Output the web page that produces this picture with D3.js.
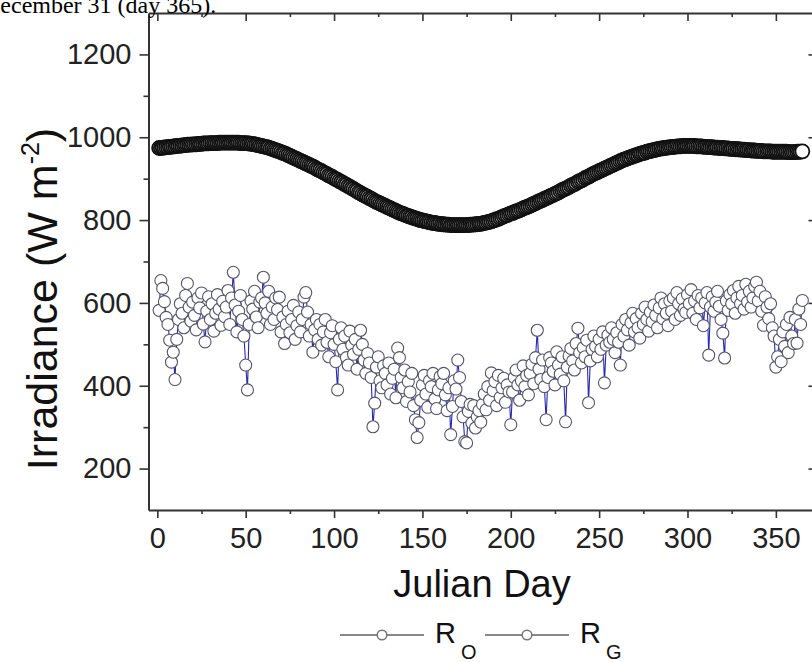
<!DOCTYPE html>
<html>
<head>
<meta charset="utf-8">
<script src="https://cdn.jsdelivr.net/npm/d3@7"></script>
<style>
  body { margin: 0; background: #fff; }
  svg { display: block; }
</style>
</head>
<body>
<svg id="chart"></svg>
<script>
// day of year, 1..365
const days = d3.range(1, 366);

// R_O : clear-sky irradiance (W m-2)
const ro = [
    974, 974, 975, 975, 976, 976, 977, 977, 978, 978,
    979, 979, 980, 980, 981, 981, 982, 982, 982, 983,
    983, 983, 984, 984, 984, 985, 985, 985, 985, 986,
    986, 986, 986, 986, 987, 987, 987, 987, 987, 987,
    987, 987, 987, 987, 987, 987, 986, 986, 986, 986,
    985, 985, 984, 984, 983, 982, 981, 980, 979, 978,
    977, 976, 975, 973, 972, 970, 969, 967, 966, 964,
    962, 961, 959, 957, 955, 953, 951, 949, 947, 945,
    943, 941, 939, 937, 935, 933, 931, 929, 927, 924,
    922, 920, 918, 915, 913, 911, 908, 906, 904, 901,
    899, 897, 894, 892, 890, 887, 885, 882, 880, 877,
    875, 872, 870, 867, 865, 862, 860, 858, 856, 853,
    851, 849, 846, 844, 842, 840, 838, 836, 834, 832,
    830, 828, 826, 824, 822, 820, 818, 816, 815, 813,
    811, 810, 808, 807, 805, 804, 803, 801, 800, 799,
    798, 797, 796, 795, 794, 793, 793, 792, 791, 791,
    790, 790, 789, 789, 789, 788, 788, 788, 788, 788,
    788, 788, 788, 788, 788, 788, 789, 789, 789, 790,
    790, 791, 791, 792, 793, 794, 795, 796, 797, 799,
    800, 802, 803, 805, 807, 809, 811, 812, 814, 816,
    817, 819, 821, 822, 824, 826, 828, 830, 831, 833,
    835, 837, 839, 841, 843, 845, 847, 849, 851, 853,
    855, 857, 859, 861, 863, 865, 867, 870, 872, 874,
    876, 878, 880, 883, 885, 887, 889, 892, 894, 896,
    898, 901, 903, 905, 907, 910, 912, 914, 916, 918,
    920, 922, 924, 926, 928, 930, 932, 934, 936, 938,
    940, 942, 944, 946, 947, 949, 951, 952, 954, 955,
    957, 958, 960, 961, 962, 963, 965, 966, 967, 968,
    969, 970, 971, 972, 973, 973, 974, 975, 975, 976,
    976, 977, 977, 978, 978, 978, 979, 979, 979, 979,
    979, 979, 979, 979, 978, 978, 978, 978, 977, 977,
    977, 976, 976, 976, 975, 975, 975, 974, 974, 974,
    973, 973, 973, 972, 972, 972, 971, 971, 971, 970,
    970, 970, 969, 969, 969, 968, 968, 968, 967, 967,
    967, 967, 966, 966, 966, 966, 966, 965, 965, 965,
    965, 965, 965, 965, 965, 965, 964, 964, 964, 964,
    964, 965, 965, 965, 966
];

// R_G : measured global irradiance (W m-2)
const rg = [
    582, 654, 635, 603, 565, 548, 510, 457, 481, 415,
    512, 560, 598, 575, 540, 618, 647, 590, 556, 602,
    570, 535, 612, 588, 624, 549, 506, 580, 615, 560,
    598, 532, 575, 620, 585, 546, 604, 567, 590, 630,
    548, 612, 674, 595, 530, 580, 618, 560, 520, 450,
    390, 548, 605, 585, 628, 566, 540, 602, 612, 662,
    600, 575, 628, 548, 590, 560, 612, 584, 614, 530,
    566, 502, 548, 580, 528, 560, 594, 512, 545, 578,
    530, 560, 614, 625, 578, 520, 548, 481, 535, 560,
    512, 548, 498, 530, 560, 505, 470, 528, 545, 500,
    458, 390, 512, 540, 488, 520, 468, 450, 532, 498,
    476, 512, 440, 488, 534, 500, 462, 430, 478, 455,
    420, 301, 358, 445, 470, 412, 395, 448, 430, 402,
    455, 380, 418, 440, 371, 491, 468, 420, 395, 438,
    362, 410, 385, 430, 352, 318, 275, 311, 365, 402,
    425, 380, 348, 412, 398, 430, 368, 345, 390, 422,
    405, 430, 378, 340, 395, 282, 350, 412, 392, 462,
    420, 362, 325, 265, 262, 338, 355, 310, 352, 298,
    325, 340, 312, 355, 380, 342, 398, 365, 431, 388,
    410, 352, 425, 372, 395, 418, 360, 402, 385, 306,
    385, 420, 438, 402, 365, 412, 448, 398, 425, 378,
    430, 452, 405, 468, 534, 440, 415, 462, 398, 318,
    420, 468, 455, 435, 402, 482, 450, 428, 470, 412,
    313, 445, 472, 490, 460, 438, 502, 539, 480, 455,
    492, 470, 510, 359, 460, 488, 520, 495, 470, 512,
    488, 530, 407, 498, 522, 505, 540, 512, 480, 528,
    505, 450, 548, 520, 560, 535, 498, 552, 575, 530,
    562, 540, 515, 575, 548, 590, 560, 532, 578, 555,
    595, 570, 540, 588, 612, 562, 598, 575, 545, 605,
    580, 612, 560, 625, 598, 570, 610, 585, 577, 620,
    598, 632, 575, 605, 560, 618, 588, 612, 545, 600,
    625, 474, 590, 615, 580, 602, 628, 592, 560, 527,
    467, 605, 582, 620, 598, 630, 575, 612, 640, 598,
    618, 585, 645, 602, 628, 590, 612, 640, 650, 605,
    628, 580, 546, 615, 590, 562, 598, 540, 520, 445,
    470, 512, 458, 530, 495, 548, 480, 565, 520, 502,
    560, 503, 585, 548, 606
];

const xTicks = [0, 50, 100, 150, 200, 250, 300, 350];
const xMinor = [25, 75, 125, 175, 225, 275, 325];
const yTicks = [200, 400, 600, 800, 1000, 1200];
const yMinor = [300, 500, 700, 900, 1100];
const legendNames = [["R", "O"], ["R", "G"]];

class IrradianceChart {
    // plot box in page pixels (right edge runs past the frame)
    box = { left: 148.5, right: 816.5, top: 13, bottom: 510 }

    constructor(svg, width = 812, height = 662) {
        this.svg = svg;
        this.width = width;
        this.height = height;
    }

    initialize() {
        this.svg = d3.select(this.svg)
            .attr("width", this.width)
            .attr("height", this.height);

        this.svg.append("rect")
            .attr("width", this.width)
            .attr("height", this.height)
            .attr("fill", "#fff");

        this.x = d3.scaleLinear().domain([-5, 373]).range([this.box.left, this.box.right]);
        this.y = d3.scaleLinear().domain([100, 1300]).range([this.box.bottom, this.box.top]);

        this.plot = this.svg.append("g");
        this.axes = this.svg.append("g");
    }

    styleAxis(g) {
        g.selectAll(".domain").attr("stroke", "#333").attr("stroke-width", 2);
        g.selectAll(".tick line").attr("stroke", "#333").attr("stroke-width", 1.6);
        g.selectAll("text")
            .attr("fill", "#222")
            .attr("font-family", "'Liberation Sans', Arial, sans-serif")
            .attr("font-size", 29);
    }

    update() {
        const x = this.x, y = this.y, b = this.box;

        // R_O series
        const roPts = days.map((d, i) => [d, ro[i]]);
        this.plot.append("path")
            .datum(roPts)
            .attr("fill", "none")
            .attr("stroke", "#111")
            .attr("stroke-width", 1.5)
            .attr("d", d3.line().x(d => x(d[0])).y(d => y(d[1])));
        this.plot.append("g").selectAll("circle")
            .data(roPts)
            .join("circle")
            .attr("cx", d => x(d[0]))
            .attr("cy", d => y(d[1]))
            .attr("r", 7)
            .attr("fill", "#fff")
            .attr("stroke", "#111")
            .attr("stroke-width", 1.8);

        // R_G series
        const rgPts = days.map((d, i) => [d, rg[i]]);
        this.plot.append("path")
            .datum(rgPts)
            .attr("fill", "none")
            .attr("stroke", "#2a2aae")
            .attr("stroke-width", 1.1)
            .attr("d", d3.line().x(d => x(d[0])).y(d => y(d[1])));
        this.plot.append("g").selectAll("circle")
            .data(rgPts)
            .join("circle")
            .attr("cx", d => x(d[0]))
            .attr("cy", d => y(d[1]))
            .attr("r", 6)
            .attr("fill", "#fff")
            .attr("stroke", "#55556a")
            .attr("stroke-width", 1.1);

        // bottom axis + minor ticks
        this.axes.append("g")
            .attr("transform", `translate(0, ${b.bottom})`)
            .call(d3.axisBottom(x).tickValues(xTicks).tickSize(8).tickSizeOuter(0).tickPadding(9))
            .call(g => this.styleAxis(g));
        this.axes.append("g")
            .attr("transform", `translate(0, ${b.bottom})`)
            .call(d3.axisBottom(x).tickValues(xMinor).tickSize(4).tickFormat(""))
            .call(g => { g.select(".domain").remove(); this.styleAxis(g); });

        // left axis + minor ticks
        this.axes.append("g")
            .attr("transform", `translate(${b.left}, 0)`)
            .call(d3.axisLeft(y).tickValues(yTicks).tickFormat(d3.format("d"))
                .tickSize(9).tickSizeOuter(0).tickPadding(8))
            .call(g => this.styleAxis(g));
        this.axes.append("g")
            .attr("transform", `translate(${b.left}, 0)`)
            .call(d3.axisLeft(y).tickValues(yMinor).tickSize(5).tickFormat(""))
            .call(g => { g.select(".domain").remove(); this.styleAxis(g); });

        // top axis, ticks pointing inward
        this.axes.append("g")
            .attr("transform", `translate(0, ${b.top})`)
            .call(d3.axisBottom(x).tickValues(xTicks).tickSize(8).tickSizeOuter(0).tickFormat(""))
            .call(g => this.styleAxis(g));
        this.axes.append("g")
            .attr("transform", `translate(0, ${b.top})`)
            .call(d3.axisBottom(x).tickValues(xMinor).tickSize(4).tickFormat(""))
            .call(g => { g.select(".domain").remove(); this.styleAxis(g); });

        // right axis, ticks pointing inward
        this.axes.append("g")
            .attr("transform", `translate(${b.right}, 0)`)
            .call(d3.axisLeft(y).tickValues(yTicks).tickSize(8).tickSizeOuter(0).tickFormat(""))
            .call(g => this.styleAxis(g));

        // axis titles
        this.svg.append("text")
            .attr("x", 482)
            .attr("y", 597)
            .attr("text-anchor", "middle")
            .attr("font-family", "'Liberation Sans', Arial, sans-serif")
            .attr("font-size", 38)
            .attr("fill", "#111")
            .text("Julian Day");

        const yl = this.svg.append("text")
            .attr("transform", "translate(57, 299) rotate(-90)")
            .attr("text-anchor", "middle")
            .attr("font-family", "'Liberation Sans', Arial, sans-serif")
            .attr("font-size", 43)
            .attr("fill", "#111");
        yl.append("tspan").text("Irradiance (W m");
        yl.append("tspan").attr("font-size", 25).attr("dy", -18).text("-2");
        yl.append("tspan").attr("dy", 18).text(")");

        // legend
        const leg = this.svg.append("g");
        const lx = [340, 485];
        legendNames.forEach((n, i) => {
            const g = leg.append("g").attr("transform", `translate(${lx[i]}, 635)`);
            g.append("line").attr("x1", 0).attr("x2", 84)
                .attr("stroke", "#888").attr("stroke-width", 2);
            g.append("circle").attr("cx", 42).attr("r", 4.8)
                .attr("fill", "#fff").attr("stroke", "#777").attr("stroke-width", 1.5);
            const t = g.append("text")
                .attr("x", 95).attr("y", 8)
                .attr("font-family", "'Liberation Sans', Arial, sans-serif")
                .attr("font-size", 29)
                .attr("fill", "#111");
            t.append("tspan").text(n[0]);
            t.append("tspan").attr("font-size", 20).attr("dx", 5).attr("dy", 16).text(n[1]);
        });

        // caption fragment cut off at the top of the frame
        this.svg.append("text")
            .attr("x", -17)
            .attr("y", 13)
            .attr("font-family", "'Liberation Serif', 'Times New Roman', serif")
            .attr("font-size", 24)
            .attr("fill", "#000")
            .text("December 31 (day 365).");
    }
}

const chart = new IrradianceChart(document.getElementById("chart"));
chart.initialize();
chart.update();
</script>
</body>
</html>
